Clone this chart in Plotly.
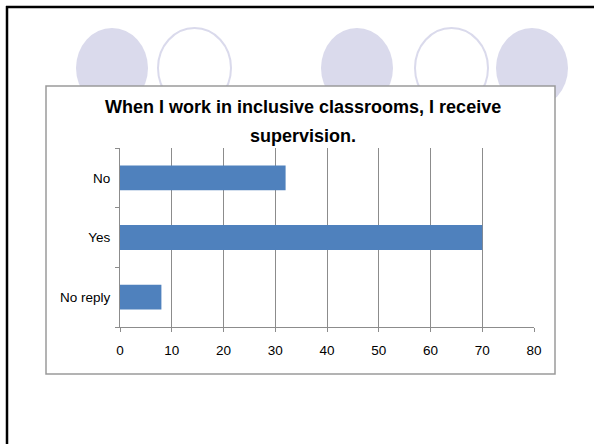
import plotly.graph_objects as go

W, H = 594, 444

categories = ["No reply", "Yes", "No"]
values = [8, 70, 32]
x_ticks = [0, 10, 20, 30, 40, 50, 60, 70, 80]
title_lines = ["When I work in inclusive classrooms, I receive", "supervision."]

BAR = "#4F81BD"
GRID = "#8C8C8C"
LAV = "#DADAEC"

# plot area in pixels
px0, px1 = 120, 534
py0, py1 = 148, 327


def fx(v):
    return v / W


def fy(v):
    return 1 - v / H


fig = go.Figure(go.Bar(
    x=values,
    y=categories,
    orientation="h",
    marker=dict(color=BAR, line=dict(width=0)),
    showlegend=False,
))

shapes = []
# decorative circles (slide theme)
circles = [(76, 148, True), (158, 231, False), (321, 393, True), (415, 488, False), (496, 568, True)]
for x0, x1, filled in circles:
    shapes.append(dict(
        type="circle", xref="paper", yref="paper", layer="below",
        x0=fx(x0), x1=fx(x1), y0=fy(28), y1=fy(108),
        fillcolor=LAV if filled else "rgba(0,0,0,0)",
        line=dict(color=LAV, width=0 if filled else 2),
    ))
# chart box
shapes.append(dict(
    type="rect", xref="paper", yref="paper", layer="below",
    x0=fx(46), x1=fx(555), y0=fy(86), y1=fy(374),
    fillcolor="white", line=dict(color="#9A9A9A", width=1.5),
))
# slide border (top and left)
shapes.append(dict(type="line", xref="paper", yref="paper", x0=fx(6), x1=1, y0=fy(7), y1=fy(7),
                   line=dict(color="black", width=2.5)))
shapes.append(dict(type="line", xref="paper", yref="paper", x0=fx(7), x1=fx(7), y0=fy(6), y1=0,
                   line=dict(color="black", width=2.5)))

annotations = []
for txt, yc in zip(title_lines, [107, 136]):
    annotations.append(dict(
        text=f"<b>{txt}</b>", xref="paper", yref="paper", x=fx(303), y=fy(yc),
        xanchor="center", yanchor="middle", showarrow=False,
        font=dict(family="Liberation Sans, Arial", size=18, color="black"),
    ))

fig.update_layout(
    width=W, height=H,
    margin=dict(l=0, r=0, t=0, b=0, pad=0),
    paper_bgcolor="white",
    plot_bgcolor="white",
    bargap=0.585,
    shapes=shapes,
    annotations=annotations,
    font=dict(family="Liberation Sans, Arial", size=13.5, color="black"),
    xaxis=dict(
        domain=[fx(px0), fx(px1)],
        range=[0, 80],
        tickvals=x_ticks,
        showgrid=True, gridcolor=GRID, gridwidth=1,
        showline=True, linecolor=GRID, linewidth=1,
        ticks="outside", ticklen=4, tickcolor=GRID,
        zeroline=False,
        ticklabelstandoff=7,
        automargin=False,
    ),
    yaxis=dict(
        domain=[fy(py1), fy(py0)],
        type="category",
        categoryorder="array", categoryarray=categories,
        showgrid=False,
        showline=True, linecolor=GRID, linewidth=1,
        ticks="outside", ticklen=4, tickcolor=GRID,
        tickson="boundaries",
        ticklabelstandoff=6,
        automargin=False,
    ),
)

# page margin and scrollbars off so the figure sits at the window origin
fig.write_html(
    "out.html",
    config={"displayModeBar": False, "responsive": False},
    post_script="document.body.style.margin='0';document.body.style.overflow='hidden';",
)
